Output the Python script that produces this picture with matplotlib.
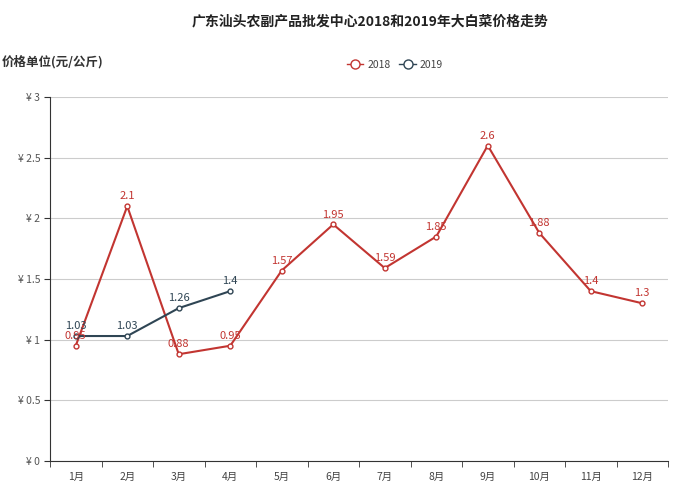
import matplotlib
matplotlib.use("Agg")
import matplotlib.pyplot as plt
from matplotlib.lines import Line2D
import numpy as np

plt.rcParams['font.family'] = ['Noto Sans CJK SC', 'DejaVu Sans']

months = ['1月', '2月', '3月', '4月', '5月', '6月', '7月', '8月', '9月', '10月', '11月', '12月']
prices_2018 = [0.95, 2.1, 0.88, 0.95, 1.57, 1.95, 1.59, 1.85, 2.6, 1.88, 1.4, 1.3]
prices_2019 = [1.03, 1.03, 1.26, 1.4]
yticks = [0, 0.5, 1, 1.5, 2, 2.5, 3]
ytick_labels = ['¥ 0', '¥ 0.5', '¥ 1', '¥ 1.5', '¥ 2', '¥ 2.5', '¥ 3']

c18 = '#c23531'
c19 = '#2f4554'

fig = plt.figure(figsize=(6.78, 4.86), dpi=100)
ax = fig.add_axes([50/678, 25/486, 618/678, 364/486])

x18 = np.arange(len(prices_2018))
x19 = np.arange(len(prices_2019))

ax.plot(x18, prices_2018, color=c18, lw=1.5, marker='o', ms=3.5, mfc='white', mec=c18, mew=1, zorder=3)
ax.plot(x19, prices_2019, color=c19, lw=1.5, marker='o', ms=3.5, mfc='white', mec=c19, mew=1, zorder=4)

for x, v in zip(x18, prices_2018):
    ax.annotate(f'{v:g}', (x, v), xytext=(0, 3.5), textcoords='offset points', ha='center', va='bottom',
                color=c18, fontsize=8, fontweight='light', zorder=5)
for x, v in zip(x19, prices_2019):
    ax.annotate(f'{v:g}', (x, v), xytext=(0, 3.5), textcoords='offset points', ha='center', va='bottom',
                color=c19, fontsize=8, fontweight='light', zorder=6)

ax.set_xlim(-0.5, len(months) - 0.5)
ax.set_ylim(0, 3)
ax.set_yticks(yticks)
ax.set_yticklabels(ytick_labels)
ax.set_xticks(np.arange(len(months)))
ax.set_xticklabels(months)
ax.set_xticks(np.arange(len(months) + 1) - 0.5, minor=True)
ax.tick_params(axis='x', which='major', length=0, pad=8, labelsize=7.5, labelcolor='#444444')
ax.tick_params(axis='x', which='minor', length=4, direction='out', color='#333333')
ax.tick_params(axis='y', length=4, direction='out', color='#333333', labelsize=7.5, labelcolor='#555555', pad=3)

ax.grid(axis='y', color='#cccccc', lw=0.8)
ax.set_axisbelow(True)
for s in ['top', 'right']:
    ax.spines[s].set_visible(False)
ax.spines['left'].set_color('#333333')
ax.spines['bottom'].set_color('#333333')

fig.text(370/678, 1 - 21/486, '广东汕头农副产品批发中心2018和2019年大白菜价格走势', ha='center', va='center',
         fontsize=10, fontweight='bold', color='#222222')
fig.text(2/678, 1 - 62/486, '价格单位(元/公斤)', ha='left', va='center', fontsize=9, fontweight='bold', color='#333333')

handles = [
    Line2D([], [], color=c18, lw=1, marker='o', ms=6.5, mfc='white', mec=c18, mew=1),
    Line2D([], [], color=c19, lw=1, marker='o', ms=6.5, mfc='white', mec=c19, mew=1),
]
leg = fig.legend(handles, ['2018', '2019'], loc='center', bbox_to_anchor=(395/678, 1 - 65/486), ncol=2,
                 frameon=False, fontsize=7.5, handlelength=1.6, columnspacing=0.8, handletextpad=0.4)
for t in leg.get_texts():
    t.set_color('#444444')

fig.savefig('out.png', dpi=100)
